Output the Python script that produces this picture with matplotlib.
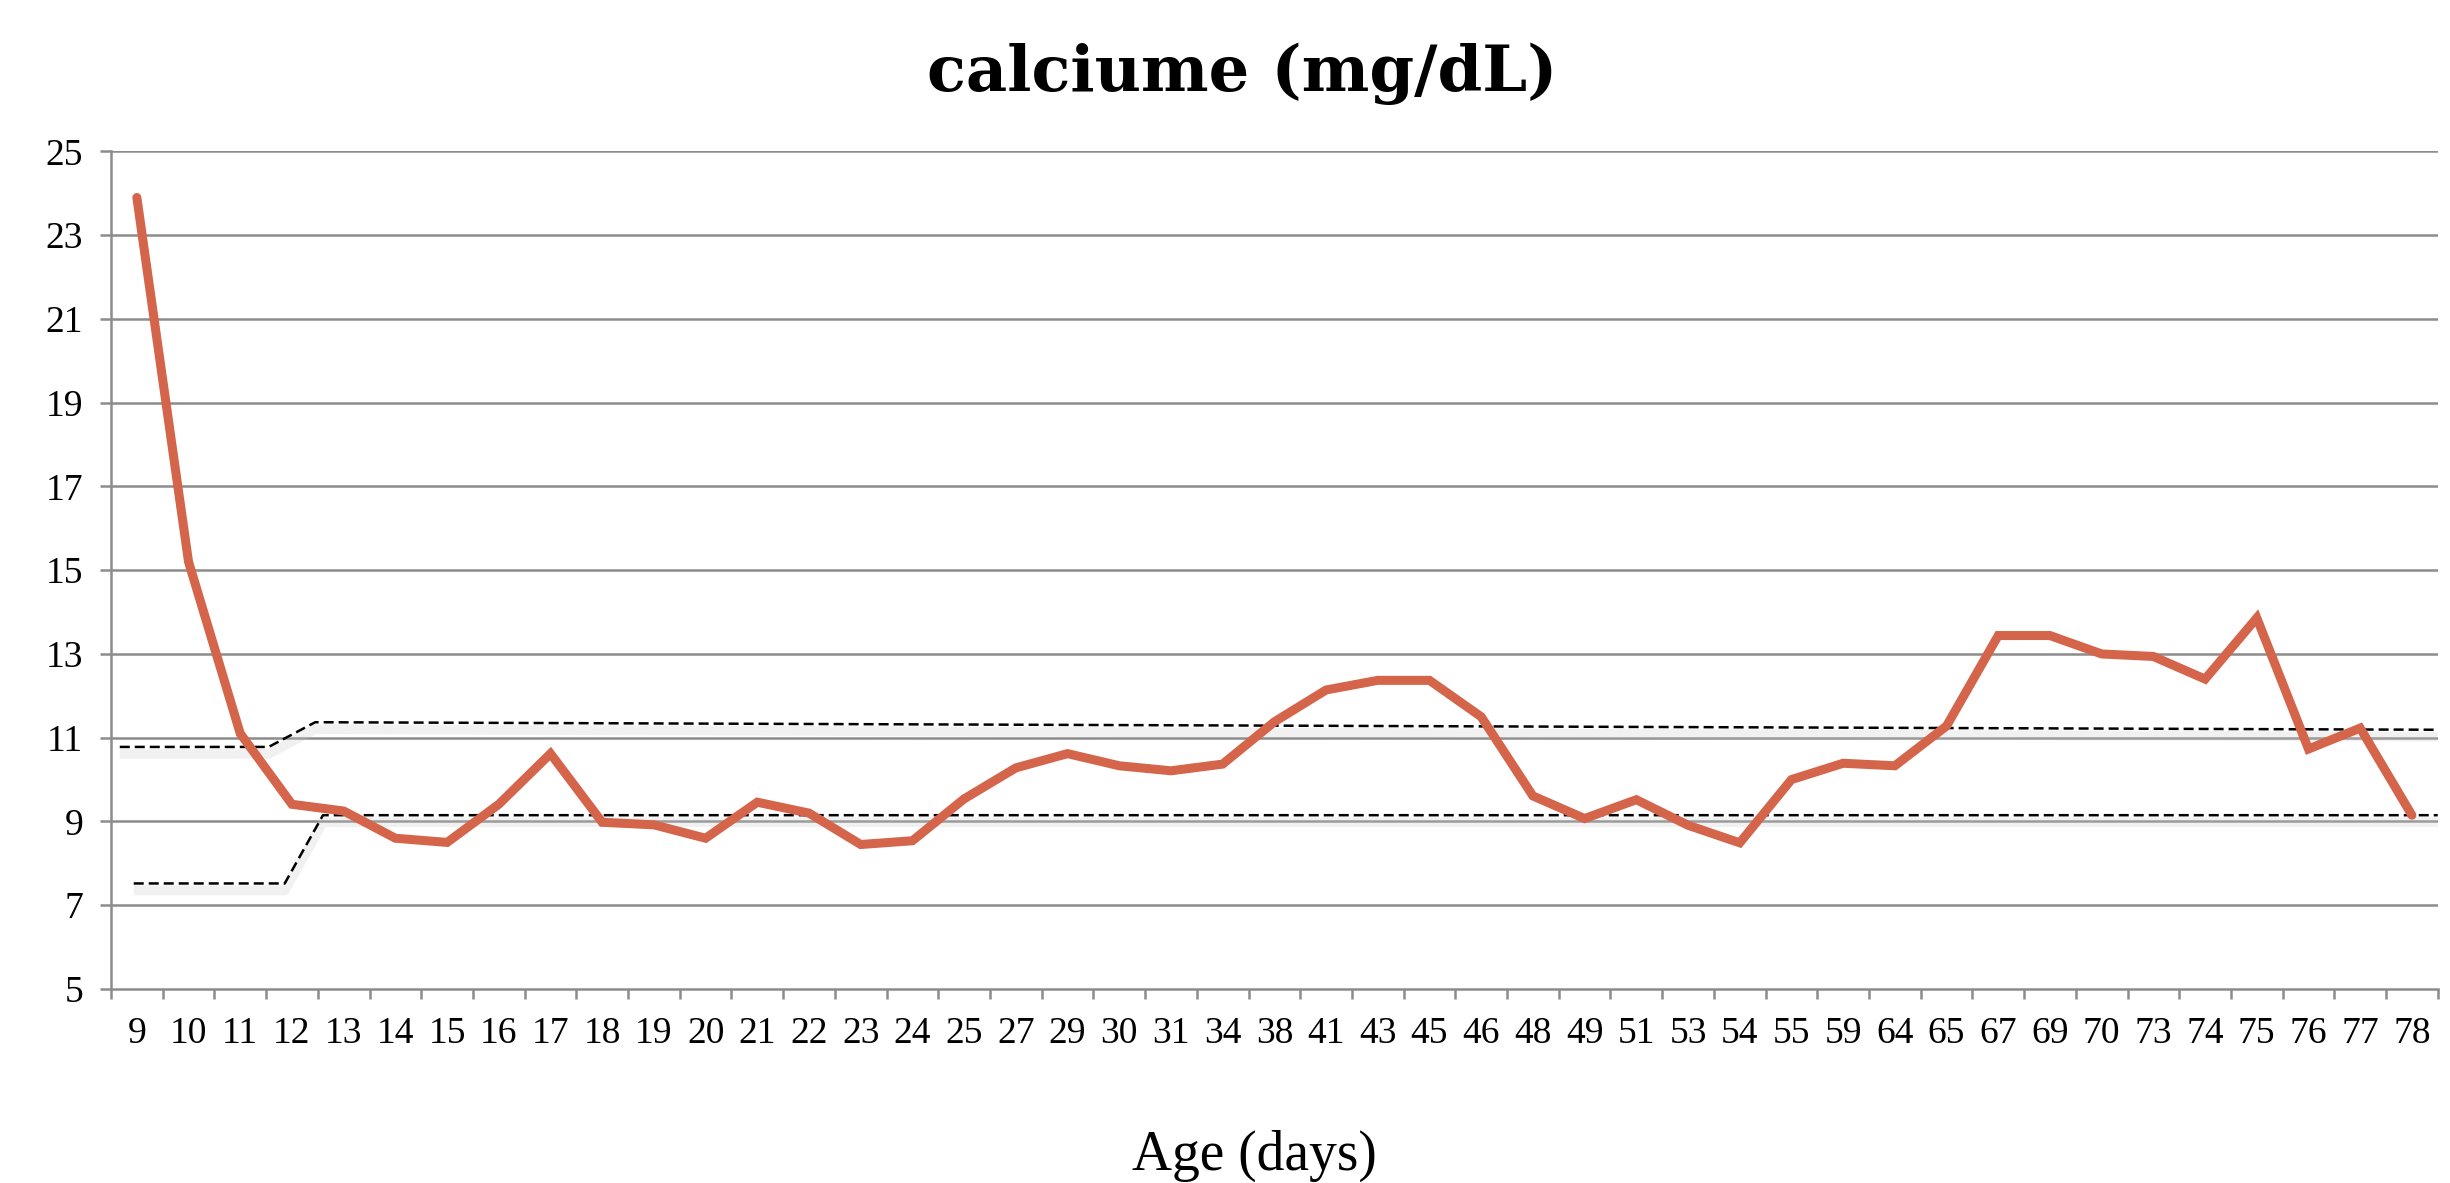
import matplotlib.pyplot as plt
import matplotlib.transforms as mtransforms
import numpy as np

# age categories (days) and calcium values
ages = ['9', '10', '11', '12', '13', '14', '15', '16', '17', '18', '19', '20',
        '21', '22', '23', '24', '25', '27', '29', '30', '31', '34', '38', '41',
        '43', '45', '46', '48', '49', '51', '53', '54', '55', '59', '64', '65',
        '67', '69', '70', '73', '74', '75', '76', '77', '78']
calcium = [23.9, 15.2, 11.1, 9.41, 9.25, 8.6, 8.5, 9.41, 10.62, 8.98, 8.92, 8.6,
           9.46, 9.2, 8.45, 8.54, 9.54, 10.28, 10.62, 10.33, 10.21, 10.37, 11.38,
           12.14, 12.37, 12.37, 11.5, 9.61, 9.07, 9.52, 8.91, 8.49, 10.0, 10.39,
           10.33, 11.28, 13.44, 13.44, 13.0, 12.94, 12.4, 13.86, 10.73, 11.23, 9.15]

# reference range lines (x in category units)
upper_x = [-0.33, 2.55, 3.45, 44.5]
upper_y = [10.78, 10.78, 11.37, 11.19]
lower_x = [-0.06, 2.86, 3.6, 44.5]
lower_y = [7.52, 7.52, 9.15, 9.15]

yticks = [5, 7, 9, 11, 13, 15, 17, 19, 21, 23, 25]

grey = '#8c8c8c'
serif = ['Liberation Serif', 'DejaVu Serif']

fig = plt.figure(figsize=(24.5, 11.83), dpi=100)
ax = fig.add_axes([0.0453, 0.164, 0.9497, 0.708])

x = np.arange(len(ages))

for v in yticks[1:]:
    ax.axhline(v, color=grey, lw=1.8, zorder=1)

# soft shadow under the dashed range lines
shift = ax.transData + mtransforms.ScaledTranslation(0, -5 / 72, fig.dpi_scale_trans)
for xs, ys in [(upper_x, upper_y), (lower_x, lower_y)]:
    ax.plot(xs, ys, color='#c8c8c8', lw=7, alpha=0.25, transform=shift, zorder=1.5,
            solid_capstyle='butt')
    ax.plot(xs, ys, color='black', lw=1.8, ls=(0, (4, 2)), zorder=2)

ax.plot(x, calcium, color='#d4644a', lw=6.5, solid_joinstyle='miter', zorder=3,
        solid_capstyle='round')

ax.set_xlim(-0.5, len(ages) - 0.5)
ax.set_ylim(5, 25)
ax.set_yticks(yticks)
ax.set_yticklabels([str(v) for v in yticks], fontsize=27, family=serif)
ax.set_xticks(x)
ax.set_xticklabels(ages, fontsize=27, family=serif)
ax.set_xticks(np.arange(-0.5, len(ages), 1), minor=True)
ax.tick_params(axis='x', which='major', length=0, pad=20)
ax.tick_params(axis='x', which='minor', length=7, width=1.8, color=grey, direction='out')
ax.tick_params(axis='y', length=8, width=1.8, color=grey, pad=12)

for s in ['top', 'right']:
    ax.spines[s].set_visible(False)
for s in ['left', 'bottom']:
    ax.spines[s].set_color(grey)
    ax.spines[s].set_linewidth(1.8)

fig.text(0.507, 0.938, 'calciume (mg/dL)', ha='center', va='center',
         fontsize=46, fontweight='bold', family=['DejaVu Serif'])
fig.text(0.512, 0.023, 'Age (days)', ha='center', va='center',
         fontsize=40, family=serif)

fig.savefig('out.png', dpi=100)
